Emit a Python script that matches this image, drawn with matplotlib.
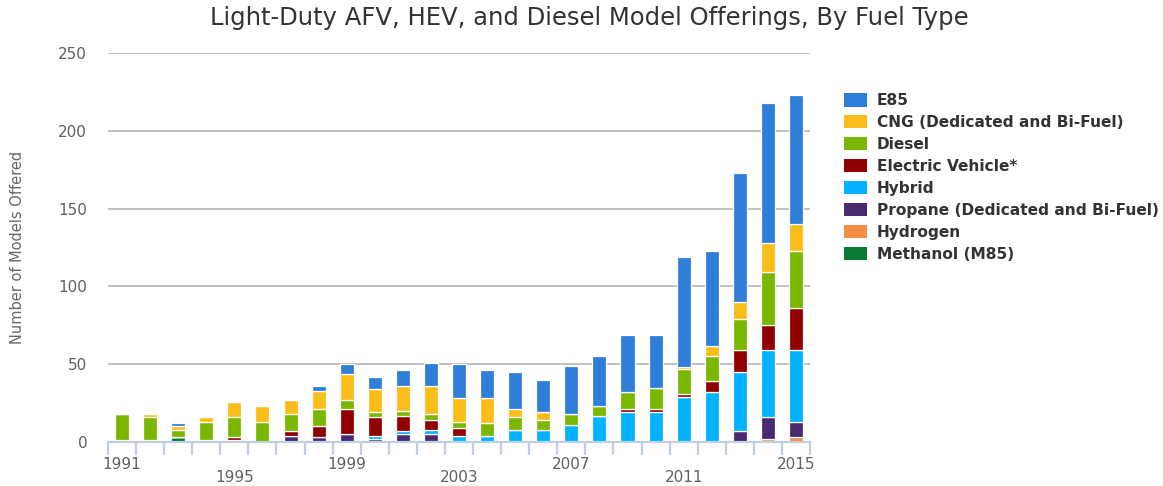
import matplotlib
matplotlib.use("Agg")
import matplotlib.pyplot as plt
from matplotlib.patches import Patch
import numpy as np

plt.rcParams["font.family"] = ["DejaVu Sans"]

years = list(range(1991, 2016))

methanol = [1, 1, 3, 1, 1, 0, 0, 0, 0, 0, 0, 0, 0, 0, 0, 0, 0, 0, 0, 0, 0, 0, 0, 0, 0]
hydrogen = [0, 0, 0, 0, 0, 0, 0, 0, 0, 0, 0, 0, 0, 0, 0, 0, 0, 0, 0, 0, 0, 0, 0, 2, 3]
propane  = [0, 0, 0, 0, 0, 0, 4, 3, 5, 2, 5, 5, 0, 0, 0, 0, 0, 0, 0, 0, 0, 0, 7, 14, 10]
hybrid   = [0, 0, 0, 0, 0, 0, 0, 0, 0, 2, 2, 3, 4, 4, 8, 8, 11, 17, 19, 19, 29, 32, 38, 43, 46]
electric = [0, 0, 0, 0, 2, 0, 3, 7, 16, 12, 10, 6, 5, 0, 0, 0, 0, 0, 2, 2, 2, 7, 14, 16, 27]
diesel   = [17, 15, 5, 12, 13, 13, 11, 11, 6, 3, 3, 4, 4, 8, 8, 6, 7, 6, 11, 14, 16, 16, 20, 34, 37]
cng      = [0, 2, 2, 3, 10, 10, 9, 12, 17, 15, 16, 18, 15, 16, 5, 5, 0, 0, 0, 0, 1, 7, 11, 19, 17]
e85      = [0, 0, 2, 0, 0, 0, 0, 3, 6, 8, 10, 15, 22, 18, 24, 21, 31, 32, 37, 34, 71, 61, 83, 90, 83]

# bottom-to-top stacking order
series = [
    ("Methanol (M85)", methanol, "#0b7a36"),
    ("Hydrogen", hydrogen, "#f28f43"),
    ("Propane (Dedicated and Bi-Fuel)", propane, "#492970"),
    ("Hybrid", hybrid, "#00b2ff"),
    ("Electric Vehicle*", electric, "#910000"),
    ("Diesel", diesel, "#7ab800"),
    ("CNG (Dedicated and Bi-Fuel)", cng, "#fbbd19"),
    ("E85", e85, "#2f7ed8"),
]

W, H = 1163, 486
fig = plt.figure(figsize=(W / 100, H / 100), dpi=100)
ax = fig.add_axes([108 / W, 1 - 442 / H, (810 - 108) / W, (442 - 53) / H])

x = np.arange(len(years))
bottom = np.zeros(len(years))
for name, vals, col in series:
    v = np.array(vals, dtype=float)
    ax.bar(x, v, bottom=bottom, width=0.5, color=col, edgecolor="white",
           linewidth=0.9, zorder=3)
    bottom += v

ax.set_xlim(-0.5, len(years) - 0.5)
ax.set_ylim(0, 250)
ax.set_yticks([0, 50, 100, 150, 200, 250])
ax.yaxis.grid(True, color="#c0c0c0", linewidth=1.4, zorder=0)
ax.tick_params(axis="y", length=0, pad=15, labelsize=11, labelcolor="#606060")

for s in ["top", "right", "left"]:
    ax.spines[s].set_visible(False)
ax.spines["bottom"].set_color("#c0d0e0")
ax.spines["bottom"].set_linewidth(1.6)
ax.spines["bottom"].set_zorder(4)

label_pos = [0, 4, 8, 12, 16, 20, 24]
labels = []
for i, p in enumerate(label_pos):
    yr = str(years[p])
    labels.append(yr if i % 2 == 0 else "\n" + yr)
ax.set_xticks(label_pos)
ax.set_xticklabels(labels, fontsize=11, color="#606060", linespacing=0.85)
ax.tick_params(axis="x", which="major", length=0, pad=10.5)
ax.set_xticks(np.arange(-0.5, len(years)), minor=True)
ax.tick_params(axis="x", which="minor", length=9, width=1.6, color="#c0d0e0")

ax.set_ylabel("Number of Models Offered", fontsize=10.5, color="#666666")
ax.yaxis.set_label_coords(-(108 - 25) / (810 - 108), (442 - 247) / (442 - 53))

fig.text(0.507, 1 - 18 / H, "Light-Duty AFV, HEV, and Diesel Model Offerings, By Fuel Type",
         ha="center", va="center", fontsize=17.5, color="#333333")

handles = [Patch(facecolor=col, edgecolor="none", label=name) for name, vals, col in reversed(series)]
leg = fig.legend(handles=handles, loc="upper left", bbox_to_anchor=(838 / W, 1 - 87 / H),
                 frameon=False, prop={"weight": "bold", "size": 11.1},
                 handlelength=1.5, handleheight=0.95, handletextpad=0.6,
                 labelspacing=0.45, borderaxespad=0)
for t in leg.get_texts():
    t.set_color("#333333")

fig.savefig("out.png", dpi=100)
